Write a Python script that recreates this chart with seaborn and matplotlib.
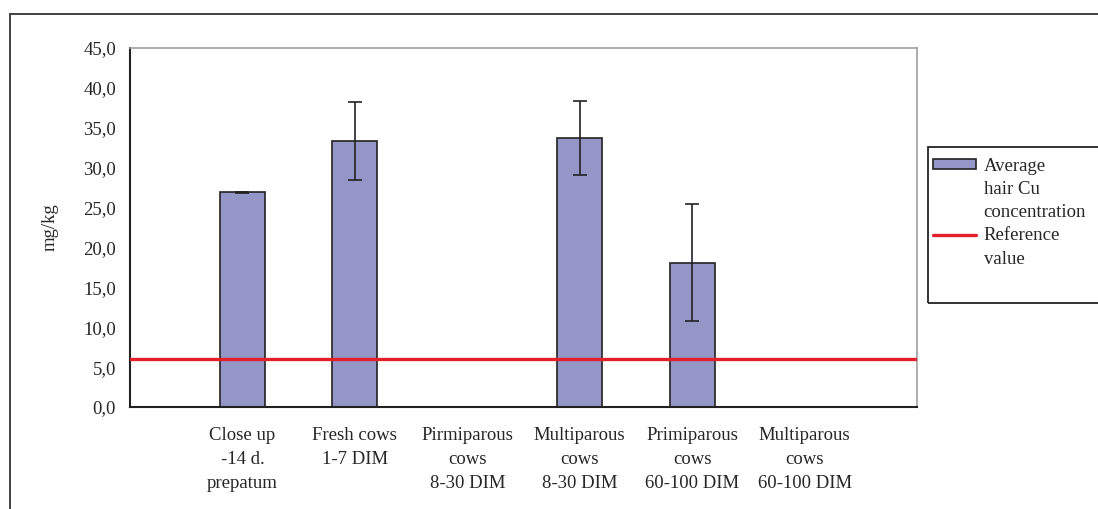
import numpy as np
import pandas as pd
import matplotlib
matplotlib.use("Agg")
import matplotlib.pyplot as plt
from matplotlib.patches import Rectangle, Patch
from matplotlib.lines import Line2D
from matplotlib.ticker import FuncFormatter
import seaborn as sns

categories = ["Close up\n-14 d.\nprepatum", "Fresh cows\n1-7 DIM", "Pirmiparous\ncows\n8-30 DIM",
              "Multiparous\ncows\n8-30 DIM", "Primiparous\ncows\n60-100 DIM", "Multiparous\ncows\n60-100 DIM"]
cu_mean = [26.9, 33.3, 0.0, 33.7, 18.1, 0.0]
cu_err = [0.1, 4.9, np.nan, 4.6, 7.3, np.nan]
reference_value = 6.0
legend_lines = ["Average", "hair Cu", "concentration", "Reference", "value"]

FS = 13.5
sns.set_style("white")
plt.rcParams["font.family"] = ["Liberation Serif", "DejaVu Serif"]
plt.rcParams["font.size"] = FS

df = pd.DataFrame({"group": categories, "cu": cu_mean})

fig = plt.figure(figsize=(10.98, 5.09), dpi=100)
ax = fig.add_axes([130 / 1098, 1 - 407 / 509, (917 - 130) / 1098, (407 - 48) / 509])

bar_color = "#9596C8"
sns.barplot(data=df, x="group", y="cu", color=bar_color, width=0.4,
            edgecolor="#222222", linewidth=1.2, saturation=1, errorbar=None, ax=ax)
ax.errorbar(range(len(categories)), cu_mean, yerr=cu_err, fmt="none",
            ecolor="#222222", elinewidth=1.2, capsize=5, capthick=1.2, zorder=4)
ax.axhline(reference_value, color="#E3202A", linewidth=2.4, zorder=5)

ax.set_xlim(-1, len(categories))
ax.set_ylim(0, 45)
ax.set_yticks(np.arange(0, 46, 5))
ax.yaxis.set_major_formatter(FuncFormatter(lambda v, p: f"{v:.1f}".replace(".", ",")))
ax.set_xticks(range(len(categories)))
ax.set_xticklabels(categories, fontsize=FS)
ax.set_xlabel("")
ax.set_ylabel("mg/kg", fontsize=FS)
ax.yaxis.set_label_coords((59 - 130) / 787, 0.5)

ax.tick_params(axis="y", direction="out", length=5, width=1.2, color="#222222", pad=5, labelsize=FS)
ax.tick_params(axis="x", length=0, pad=14.5, labelsize=FS)

for side in ["left", "bottom"]:
    ax.spines[side].set_color("#222222")
    ax.spines[side].set_linewidth(1.5)
for side in ["top", "right"]:
    ax.spines[side].set_color("#A0A0A0")
    ax.spines[side].set_linewidth(1.2)

# outer chart frame (only top and left visible)
fig.add_artist(Rectangle((10 / 1098, -0.1), 1.2, 1 - 14 / 509 + 0.1, transform=fig.transFigure,
                         fill=False, edgecolor="#333333", linewidth=1.3))

# legend box
fig.add_artist(Rectangle((928 / 1098, 1 - 303 / 509), 0.2, (303 - 147) / 509, transform=fig.transFigure,
                         fill=False, edgecolor="#222222", linewidth=1.3))
blank = Patch(facecolor="none", edgecolor="none")
handles = [Patch(facecolor=bar_color, edgecolor="#222222", linewidth=1.2), blank, blank,
           Line2D([0], [0], color="#E3202A", linewidth=2.4), blank]
fig.legend(handles, legend_lines,
           loc="upper left", bbox_to_anchor=(931 / 1098, 1 - 156 / 509),
           frameon=False, fontsize=FS, handlelength=2.3, handleheight=0.4,
           handletextpad=0.4, labelspacing=0.33, borderpad=0.1, borderaxespad=0)

fig.canvas.draw()
for lab in ax.get_xticklabels():
    lab.set_linespacing(1.55)

fig.savefig("out.png", dpi=100)
